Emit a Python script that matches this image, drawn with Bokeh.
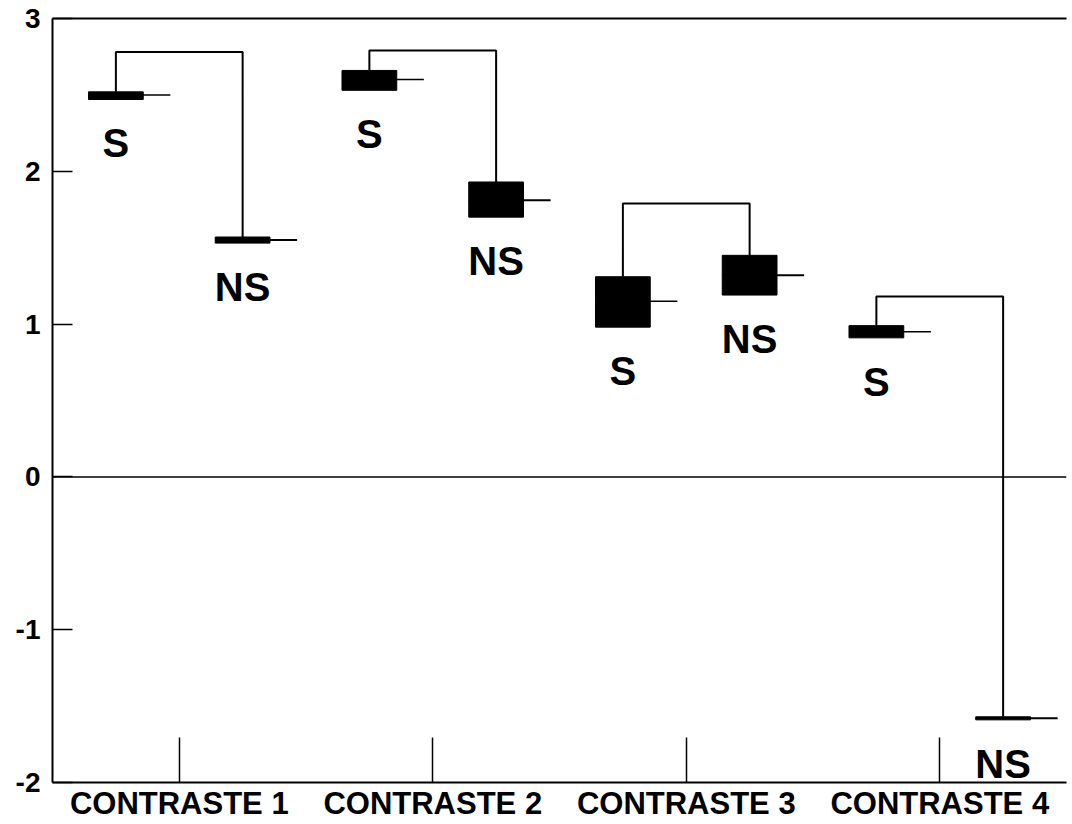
from bokeh.plotting import figure
from bokeh.models import LinearAxis, FixedTicker, Span, Range1d
from bokeh.embed import file_html
from bokeh.resources import INLINE
from bokeh.core.properties import value

# ---- data ----
contrasts = ["CONTRASTE 1", "CONTRASTE 2", "CONTRASTE 3", "CONTRASTE 4"]
s_label = ["S", "S", "S", "S"]
ns_label = ["NS", "NS", "NS", "NS"]
s_mean = [2.50, 2.60, 1.15, 0.95]
s_low = [2.47, 2.53, 0.98, 0.91]
s_high = [2.52, 2.66, 1.31, 0.99]
ns_mean = [1.55, 1.81, 1.32, -1.58]
ns_low = [1.53, 1.70, 1.19, -1.59]
ns_high = [1.57, 1.93, 1.45, -1.57]
bracket_top = [2.78, 2.79, 1.79, 1.18]
y_ticks = [-2, -1, 0, 1, 2, 3]
y_tick_labels = {-2: "-2", -1: "-1", 0: "0", 1: "1", 2: "2", 3: "3"}

FONT = "Liberation Sans"
OFF = 0.25      # offset of S / NS from contrast centre
HW = 0.108      # box half width
TICKLEN = 0.107 # length of mean line beyond the box

pos = list(range(1, len(contrasts) + 1))
xs_s = [c - OFF for c in pos]
xs_ns = [c + OFF for c in pos]

p = figure(width=1068, height=823, output_backend="svg",
           toolbar_location=None, x_range=Range1d(0.5, 4.5), y_range=Range1d(-2, 3),
           min_border_left=52, min_border_top=18, min_border_right=2, min_border_bottom=0,
           x_axis_location=None, y_axis_location=None)
p.outline_line_color = None
p.xgrid.visible = False
p.ygrid.visible = False
p.background_fill_color = "white"

# left axis
ya = LinearAxis(ticker=FixedTicker(ticks=y_ticks))
ya.major_label_overrides = y_tick_labels
ya.major_tick_in = 20
ya.major_tick_out = 0
ya.minor_tick_line_color = None
ya.axis_line_width = 2
ya.major_tick_line_width = 1.5
ya.major_label_text_font = FONT
ya.major_label_text_font_style = "bold"
ya.major_label_text_font_size = "28px"
ya.major_label_text_color = "black"
ya.major_label_standoff = 12
p.add_layout(ya, "left")

# bottom axis
xa = LinearAxis(ticker=FixedTicker(ticks=pos))
xa.major_label_overrides = {i + 1: c for i, c in enumerate(contrasts)}
xa.major_tick_in = 45
xa.major_tick_out = 0
xa.minor_tick_line_color = None
xa.axis_line_width = 2
xa.major_tick_line_width = 1.5
xa.major_label_text_font = FONT
xa.major_label_text_font_style = "bold"
xa.major_label_text_font_size = "31px"
xa.major_label_text_color = "black"
xa.major_label_standoff = 3
p.add_layout(xa, "below")

# top border
ta = LinearAxis(ticker=FixedTicker(ticks=[]))
ta.major_tick_in = 0
ta.major_tick_out = 0
ta.minor_tick_line_color = None
ta.axis_line_width = 2
ta.major_label_text_font_size = "0px"
ta.major_label_standoff = 0
p.add_layout(ta, "above")

# zero line
p.add_layout(Span(location=0, dimension="width", line_color="black", line_width=1.5))

# boxes
p.quad(left=[x - HW for x in xs_s], right=[x + HW for x in xs_s],
       bottom=s_low, top=s_high, fill_color="black", line_color="black", line_width=1)
p.quad(left=[x - HW for x in xs_ns], right=[x + HW for x in xs_ns],
       bottom=ns_low, top=ns_high, fill_color="black", line_color="black", line_width=1)

# mean lines
p.segment(x0=[x - HW for x in xs_s], x1=[x + HW + TICKLEN for x in xs_s],
          y0=s_mean, y1=s_mean, line_color="black", line_width=1.5)
p.segment(x0=[x - HW for x in xs_ns], x1=[x + HW + TICKLEN for x in xs_ns],
          y0=ns_mean, y1=ns_mean, line_color="black", line_width=2)

# brackets
bx = [[a, a, b, b] for a, b in zip(xs_s, xs_ns)]
by = [[sh, t, t, nh] for sh, t, nh in zip(s_high, bracket_top, ns_high)]
p.multi_line(xs=bx, ys=by, line_color="black", line_width=2)

# labels
p.text(x=xs_s, y=s_low, text=s_label, text_font=value(FONT), text_font_style="bold",
       text_font_size="40px", text_align="center", text_baseline="middle",
       y_offset=44, text_color="black")
p.text(x=xs_ns, y=ns_low, text=ns_label, text_font=value(FONT), text_font_style="bold",
       text_font_size="40px", text_align="center", text_baseline="middle",
       y_offset=44, text_color="black")

open("out.html", "w").write(file_html(p, INLINE))
